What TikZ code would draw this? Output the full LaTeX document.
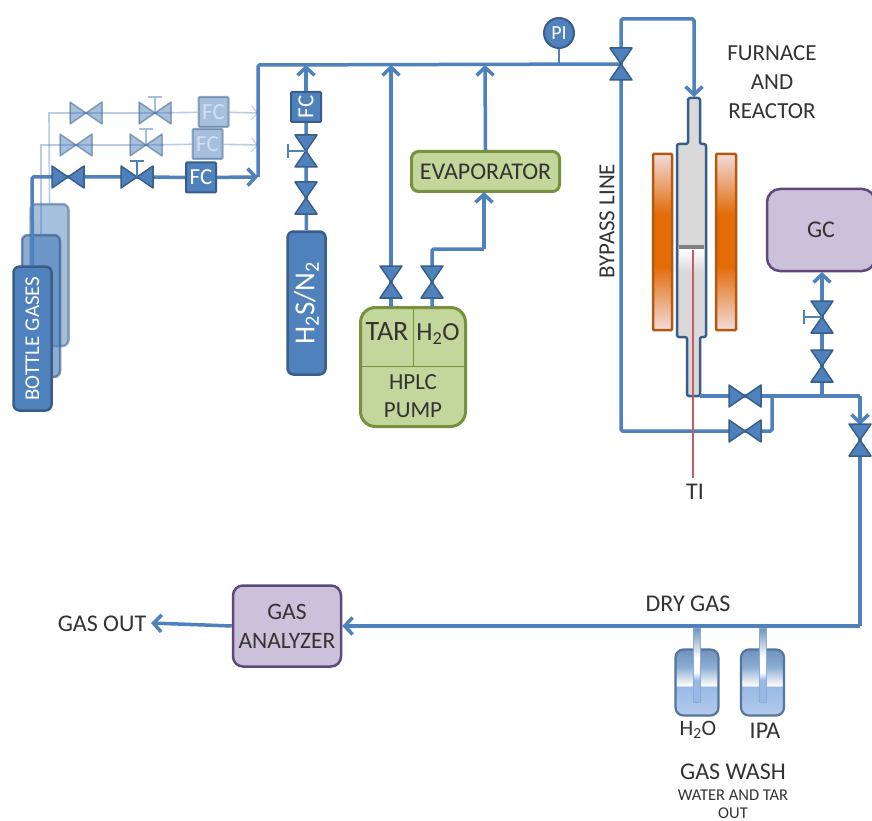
\documentclass[tikz,border=0pt]{standalone}
\usepackage{fontspec}
\usepackage{graphicx}
\setmainfont{Carlito}
\usetikzlibrary{arrows.meta}
\definecolor{pipe}{HTML}{4F81BD}
\definecolor{pipedark}{HTML}{385D8A}
\definecolor{grn}{HTML}{C3D69B}
\definecolor{grnb}{HTML}{76923C}
\definecolor{pur}{HTML}{CCC1DA}
\definecolor{purb}{HTML}{5F497A}
\definecolor{txt}{HTML}{333333}
\definecolor{furnA}{HTML}{F2DCDB}
\definecolor{furnB}{HTML}{E36C09}
\definecolor{furnedge}{HTML}{B25A10}
\definecolor{blC}{HTML}{8AACD2}
\definecolor{blD}{HTML}{6F93BC}
\definecolor{blE}{HTML}{B4CCEC}
\definecolor{blF}{HTML}{98B9E6}
\definecolor{rg}{HTML}{D9D9D9}
\definecolor{tired}{HTML}{BF6068}
\pgfdeclareverticalshading{furnshade}{100bp}{color(0bp)=(furnA); color(25bp)=(furnA); color(43bp)=(furnB); color(58bp)=(furnB); color(75bp)=(furnA); color(100bp)=(furnA)}
\pgfdeclareverticalshading{bottleshadeb}{100bp}{color(0bp)=(blE); color(25bp)=(blE); color(47bp)=(blF); color(47.6bp)=(white); color(62bp)=(blC); color(75bp)=(blD); color(100bp)=(blD)}
\pgfdeclareverticalshading{tubeshade}{100bp}{color(0bp)=(blF); color(25bp)=(blF); color(40bp)=(blF); color(45bp)=(white); color(55bp)=(white); color(75bp)=(blD); color(100bp)=(blD)}
\pgfdeclareverticalshading{gapshade}{100bp}{color(0bp)=(rg); color(25bp)=(rg); color(75bp)=(white); color(100bp)=(white)}
\tikzset{
 >={Straight Barb[length=8pt,width=17pt,line width=3.5pt]},
 line/.style={draw=pipe,line width=3.5pt,rounded corners=1.5pt},
 thinline/.style={draw=pipe,line width=1.6pt,opacity=.4},
 thinarrow/.style={thinline,-{Straight Barb[length=6pt,width=14pt,line width=1pt]}},
 valvepart/.style={fill=pipe,draw=pipedark,line width=1.5pt,line join=round},
 pics/hvalve/.style={code={
  \path[valvepart] (-16,-11) -- (0,0) -- (-16,11) -- cycle;
  \path[valvepart] (16,-11) -- (0,0) -- (16,11) -- cycle;}},
 pics/vvalve/.style={code={
  \path[valvepart] (-11,-16) -- (0,0) -- (11,-16) -- cycle;
  \path[valvepart] (-11,16) -- (0,0) -- (11,16) -- cycle;}},
 pics/handleup/.style={code={
  \draw[pipe,line width=1.4pt] (0,0) -- (0,-16) (-7,-16) -- (7,-16);}},
 pics/handleleft/.style={code={
  \draw[pipe,line width=1.4pt] (0,0) -- (-18,0) (-18,-7) -- (-18,7);}},
 tank/.style={draw=pipedark,line width=2.5pt,fill=pipe,rounded corners=6pt,inner sep=0pt,text=white,font=\fontsize{21}{23}\selectfont},
 fcbox/.style={draw=pipedark,line width=2pt,fill=pipe,rounded corners=1pt,inner sep=0pt,minimum width=30pt,minimum height=30pt,text=white,font=\fontsize{23}{24}\selectfont},
 greenbox/.style={draw=grnb,line width=3pt,fill=grn,inner sep=0pt,text=txt},
 purplebox/.style={draw=purb,line width=2.5pt,fill=pur,inner sep=0pt,text=txt},
 label/.style={text=txt,inner sep=0pt,align=center,font=\fontsize{24}{27}\selectfont},
 furnacewall/.style={draw=furnedge,line width=2.5pt,rounded corners=1pt,shading=furnshade,inner sep=0pt,minimum width=19pt,minimum height=176pt},
 washbottle/.style={draw=pipedark!85,line width=2.2pt,rounded corners=8pt,inner sep=0pt,minimum width=43pt,minimum height=66pt,shading=bottleshadeb},
 washtube/.style={draw=blC,line width=1pt,inner sep=0pt,minimum width=7pt,minimum height=74pt,shading=tubeshade},
}
\begin{document}
\begin{tikzpicture}[x=1pt,y=-1pt]
\useasboundingbox (0,0) rectangle (872,821);
\fill[white] (0,0) rectangle (872,821);
% coordinates
\coordinate (busA) at (258,177);
\coordinate (busB) at (258,65);
\coordinate (busR1) at (258,113);
\coordinate (busR2) at (258,145);
\coordinate (pv) at (621,64);
\coordinate (tarT) at (391,65);
\coordinate (fcT) at (306,65);
\coordinate (evT) at (485,65);
\coordinate (piB) at (559,64);
\coordinate (vA1) at (68,177);
\coordinate (vA2) at (137,177);
\coordinate (vB1) at (76,145);
\coordinate (vB2) at (146,145);
\coordinate (vC1) at (86,113);
\coordinate (vC2) at (155,113);
\coordinate (h1) at (306,151);
\coordinate (h2) at (306,198);
\coordinate (t1) at (391,282);
\coordinate (t2) at (432,282);
\coordinate (r1) at (745,396);
\coordinate (r2) at (745,431);
\coordinate (g1) at (822,317);
\coordinate (g2) at (822,366);
\coordinate (d1) at (860,440);
\coordinate (tee) at (822,396);
\coordinate (joinR) at (772,396);
\coordinate (reactTop) at (694,97);
\coordinate (reactOut) at (700,396);
\coordinate (gasout) at (151,623);
\coordinate (tiTop) at (693,250);
\coordinate (tiBot) at (693,478);
% back bottles
\node[tank,opacity=.5,minimum width=38pt,minimum height=142pt] (bottleC) at (49.5,275) {};
\node[tank,opacity=.65,minimum width=38pt,minimum height=142pt] (bottleB) at (41,306) {};
% light rows
\draw[thinline] (bottleC.north) -- (49,113) -- (vC1);
\draw[thinline] (bottleB.north) -- (41,145) -- (vB1);
\node[fcbox,opacity=.5] (fcC) at (213.5,112) {FC};
\node[fcbox,opacity=.5] (fcB) at (207.5,144) {FC};
\draw[thinline] (vC1) -- (vC2) -- (fcC);
\draw[thinline] (vB1) -- (vB2) -- (fcB);
\draw[thinarrow] (fcC) -- (busR1);
\draw[thinarrow] (fcB) -- (busR2);
\begin{scope}[opacity=.5]
\pic at (vC1) {hvalve};
\pic at (vC2) {hvalve};
\pic at (vC2) {handleup};
\pic at (vB1) {hvalve};
\pic at (vB2) {hvalve};
\pic at (vB2) {handleup};
\end{scope}
% front row
\node[tank,minimum width=38pt,minimum height=144pt] (bottleA) at (32.5,338.5) {\rotatebox{90}{BOTTLE GASES}};
\node[fcbox] (fcA) at (201,177.5) {FC};
\path[line] (bottleA.north) -- (32,177) -- (vA1) -- (vA2) -- (fcA);
\draw[line,->] (fcA) -- (busA);
\pic at (vA1) {hvalve};
\pic at (vA2) {hvalve};
\pic at (vA2) {handleup};
% main bus
\path[line] (busA) -- (busB) -- (pv);
% H2S
\node[tank,minimum width=38pt,minimum height=143pt,font=\fontsize{29}{30}\selectfont] (hs) at (306.5,303) {\rotatebox{90}{H\textsubscript{2}S/N\textsubscript{2}}};
\node[fcbox] (fcH) at (306,107) {\rotatebox{90}{FC}};
\path[line] (hs.north) -- (h2) -- (h1) -- (fcH);
\draw[line,->] (fcH) -- (fcT);
\pic at (h1) {vvalve};
\pic at (h1) {handleleft};
\pic at (h2) {vvalve};
% HPLC
\node[greenbox,rounded corners=15pt,minimum width=105pt,minimum height=119pt] (hplc) at (413,367) {};
\node[greenbox,rounded corners=7pt,minimum width=148pt,minimum height=40pt,font=\fontsize{24}{26}\selectfont] (evap) at (485.5,171.5) {EVAPORATOR};
\draw[grnb,line width=1pt] (hplc.west |- 0,366) -- (hplc.east |- 0,366);
\draw[grnb,line width=1pt] (hplc.north) -- (413,366);
\node[text=txt,inner sep=0pt,font=\fontsize{28}{30}\selectfont] (tar) at (387,332) {TAR};
\node[text=txt,inner sep=0pt,font=\fontsize{26}{28}\selectfont] (hho) at (438,334) {H\textsubscript{2}O};
\node[text=txt,inner sep=0pt,align=center,font=\fontsize{23}{28}\selectfont] (hplct) at (413,396) {HPLC\\PUMP};
\coordinate (tarB) at (391,307);
\coordinate (hhoB) at (432,307);
\coordinate (evB) at (484,192);
\path[line] (tarB) -- (t1);
\draw[line,->] (t1) -- (tarT);
\path[line] (hhoB) -- (t2) -- (432,249) -- (484,249);
\draw[line,->] (484,249) -- (evB);
\draw[line,->] (evap.north) -- (evT);
\pic at (t1) {vvalve};
\pic at (t2) {vvalve};
% PI
\node[circle,fill=pipe,draw=pipedark,line width=2pt,minimum size=30pt,inner sep=0pt,text=white,font=\fontsize{20}{21}\selectfont] (pi) at (559,33) {PI};
\draw[pipe,line width=2pt] (pi) -- (piB);
% bypass and reactor feed
\path[line] (r2) -- (621,431) -- (pv);
\draw[line,->] (pv) -- (621,19) -- (694,19) -- (reactTop);
% furnace
\node[furnacewall] (fL) at (662.5,242) {};
\node[furnacewall,minimum width=20pt] (fR) at (726,242) {};
% reactor
\path[draw=pipedark,line width=2.5pt,fill=rg,line join=round,rounded corners=2pt]
 (688,98) -- (700,98) -- (700,144) -- (706,144) -- (706,337) -- (700,337) -- (700,396) -- (687,396) -- (687,337) -- (677,337) -- (677,144) -- (688,144) -- cycle;
\fill[shading=gapshade] (679,249) rectangle (704,272);
\fill[black!50] (679,245) rectangle (704,249);
% outlet piping
\path[line] (reactOut) -- (r1) -- (joinR) -- (tee) -- (860,396);
\draw[line,->] (860,396) -- (860,425);
\path[line] (r2) -- (772,431) -- (joinR);
\path[line] (tee) -- (g2) -- (g1);
\node[purplebox,rounded corners=13pt,minimum width=108pt,minimum height=82pt,font=\fontsize{24}{26}\selectfont] (gc) at (821,230) {GC};
\draw[line,->] (g1) -- (822,272);
\pic at (g1) {vvalve};
\pic at (g1) {handleleft};
\pic at (g2) {vvalve};
\pic at (r1) {hvalve};
\pic at (r2) {hvalve};
\pic at (pv) {vvalve};
\draw[draw=tired,line width=2.5pt] (tiTop) -- (tiBot);
\node[label] (ti) at (695,492) {TI};
% gas train
\node[purplebox,rounded corners=10pt,minimum width=108pt,minimum height=81pt,align=center,font=\fontsize{23.5}{29}\selectfont] (ga) at (287,626) {GAS\\ANALYZER};
\path[line] (860,396) -- (d1) -- (860,626);
\draw[line,->] (860,626) -- (ga.east);
\draw[line,->] (ga.west) -- (gasout);
\pic at (d1) {vvalve};
\node[washbottle] (wa) at (697,682.5) {};
\node[washbottle] (wb) at (762.5,682.5) {};
\node[washtube] (ta) at (697,665) {};
\node[washtube] (tb) at (762.5,665) {};
\node[label] (gout) at (102,624) {GAS OUT};
\node[label] (dry) at (688,604) {DRY GAS};
\node[label,font=\fontsize{22}{24}\selectfont] (hw) at (698,730) {H\textsubscript{2}O};
\node[label] (ipa) at (765,731) {IPA};
\node[label] (wash) at (733,772) {GAS WASH};
\node[label,font=\fontsize{16.5}{18}\selectfont] (wt) at (733,804) {WATER AND TAR\\OUT};
\node[label,font=\fontsize{23}{29}\selectfont] (fur) at (772,82) {FURNACE\\AND\\REACTOR};
\node[label,font=\fontsize{23}{24}\selectfont] (by) at (607,221) {\rotatebox{90}{BYPASS LINE}};
\end{tikzpicture}
\end{document}
